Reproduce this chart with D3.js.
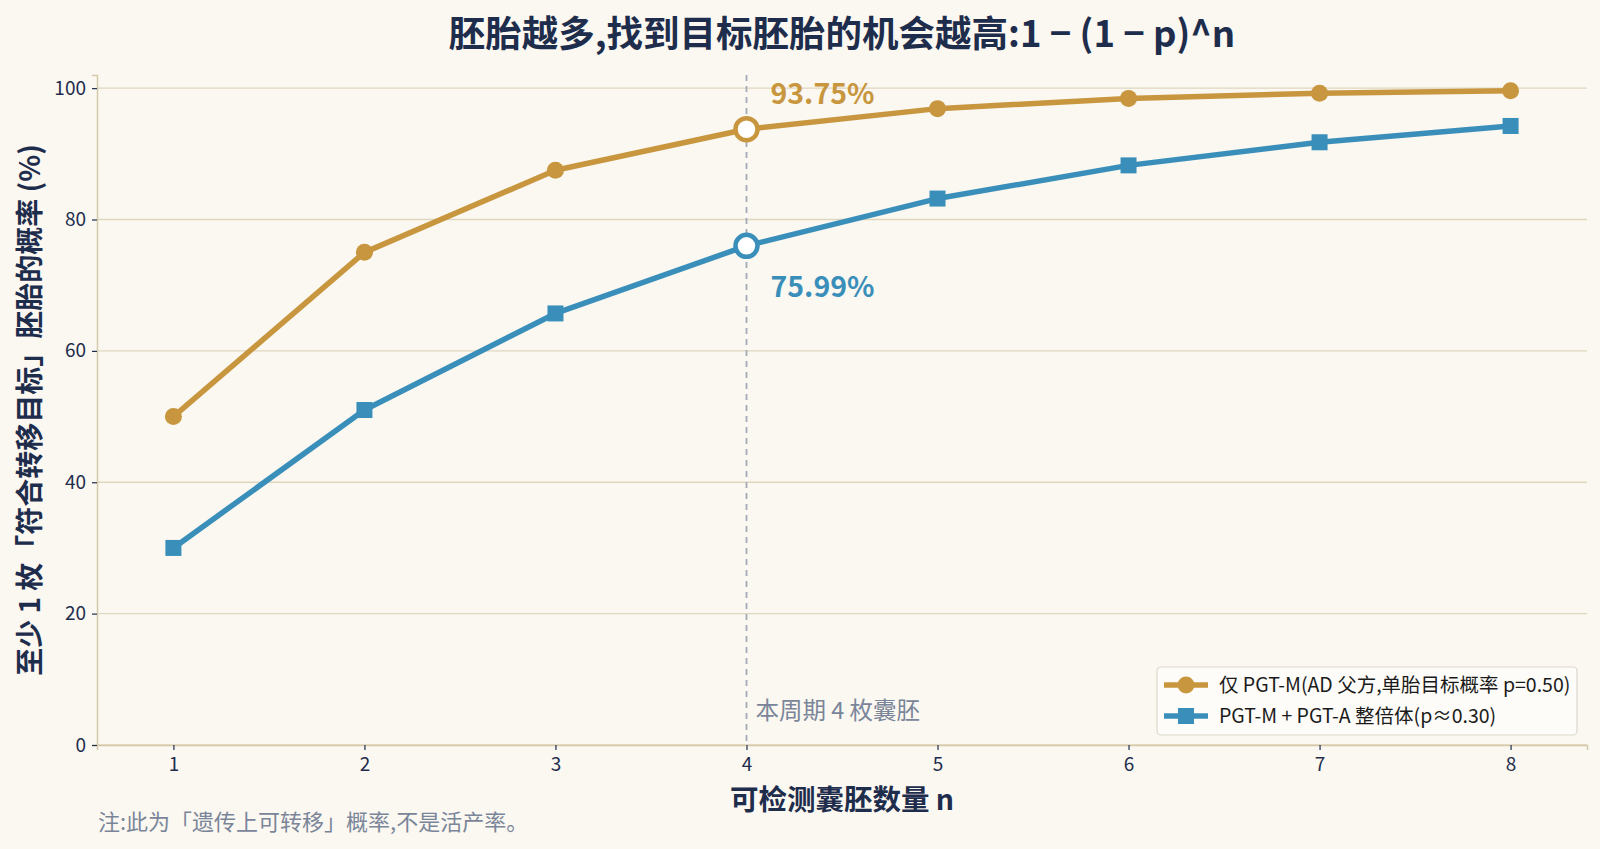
<html>
<head>
<meta charset="utf-8">
<title>胚胎概率</title>
<script src="https://cdn.jsdelivr.net/npm/d3@7"></script>
<style>
  body{margin:0;background:#faf8f1;}
  text{font-family:"Noto Sans CJK SC","Noto Sans",sans-serif;}
</style>
</head>
<body>
<script>
// 数据
var nValues = [1, 2, 3, 4, 5, 6, 7, 8];
var pgtM = [50, 75, 87.5, 93.75, 96.88, 98.44, 99.22, 99.61];      // p=0.50
var pgtMA = [30, 51, 65.7, 75.99, 83.19, 88.24, 91.76, 94.24];     // p≈0.30
var yTicks = [0, 20, 40, 60, 80, 100];
var seriesNames = ["仅 PGT-M(AD 父方,单胎目标概率 p=0.50)", "PGT-M + PGT-A 整倍体(p≈0.30)"];
var highlightN = 4;
var highlightLabels = ["93.75%", "75.99%"];

var width = 1600, height = 849;
var margin = {left: 97, right: 13, top: 75, bottom: 104};
var orange = "#c8963e", blue = "#3a8fba", navy = "#1f2d4d", grid = "#e0d6c0";

var svg = d3.select("body").append("svg")
    .attr("width", width).attr("height", height)
    .style("background", "#faf8f1");

var x = d3.scaleLinear().domain([0.6, 8.4]).range([margin.left, width - margin.right]);
var y = d3.scaleLinear().domain([0, 102]).range([height - margin.bottom, margin.top]);

// 网格线
svg.append("g").selectAll("line").data(yTicks).enter().append("line")
    .attr("x1", margin.left).attr("x2", width - margin.right)
    .attr("y1", d => y(d)).attr("y2", d => y(d))
    .attr("stroke", grid).attr("stroke-width", 1.3);

// 坐标轴
var xAxis = svg.append("g")
    .attr("transform", "translate(0," + (height - margin.bottom) + ")")
    .call(d3.axisBottom(x).tickValues(nValues).tickSize(5).tickPadding(8));
var yAxis = svg.append("g")
    .attr("transform", "translate(" + margin.left + ",0)")
    .call(d3.axisLeft(y).tickValues(yTicks).tickSize(5).tickPadding(6));
[xAxis, yAxis].forEach(function(g){
    g.select(".domain").attr("stroke", "#d6c9a8").attr("stroke-width", 1.5);
    g.selectAll(".tick line").attr("stroke", navy).attr("stroke-width", 1.2);
    g.selectAll(".tick text").attr("fill", navy).style("font-size", "19px")
        .style("font-family", "'Noto Sans CJK SC','Noto Sans',sans-serif");
});

// 参考线 n=4
svg.append("line")
    .attr("x1", x(highlightN)).attr("x2", x(highlightN))
    .attr("y1", margin.top).attr("y2", height - margin.bottom)
    .attr("stroke", "#a3abb8").attr("stroke-width", 1.8).attr("stroke-dasharray", "6,5");
svg.append("text")
    .attr("x", x(highlightN) + 9).attr("y", 719)
    .attr("fill", "#7b8599").style("font-size", "23.5px")
    .text("本周期 4 枚囊胚");

var line = d3.line().x((d, i) => x(nValues[i])).y(d => y(d));

// 橙色折线
svg.append("path").datum(pgtM).attr("d", line)
    .attr("fill", "none").attr("stroke", orange).attr("stroke-width", 5.5)
    .attr("stroke-linejoin", "round");
svg.selectAll(".dotM").data(pgtM).enter().append("circle")
    .attr("class", "dotM")
    .attr("cx", (d, i) => x(nValues[i])).attr("cy", d => y(d))
    .attr("r", 8.5).attr("fill", orange);

// 蓝色折线
svg.append("path").datum(pgtMA).attr("d", line)
    .attr("fill", "none").attr("stroke", blue).attr("stroke-width", 5.5)
    .attr("stroke-linejoin", "round");
svg.selectAll(".dotMA").data(pgtMA).enter().append("rect")
    .attr("class", "dotMA")
    .attr("x", (d, i) => x(nValues[i]) - 8).attr("y", d => y(d) - 8)
    .attr("width", 16).attr("height", 16).attr("fill", blue);

// 高亮点
var hi = nValues.indexOf(highlightN);
[[pgtM, orange], [pgtMA, blue]].forEach(function(s){
    svg.append("circle")
        .attr("cx", x(highlightN)).attr("cy", y(s[0][hi]))
        .attr("r", 11).attr("fill", "white")
        .attr("stroke", s[1]).attr("stroke-width", 4.5);
});
svg.append("text")
    .attr("x", x(highlightN) + 24).attr("y", y(pgtM[hi]) - 25)
    .attr("fill", orange).style("font-size", "28.5px").style("font-weight", "bold")
    .text(highlightLabels[0]);
svg.append("text")
    .attr("x", x(highlightN) + 24).attr("y", y(pgtMA[hi]) + 51)
    .attr("fill", blue).style("font-size", "28.5px").style("font-weight", "bold")
    .text(highlightLabels[1]);

// 标题
svg.append("text")
    .attr("x", (margin.left + width - margin.right) / 2).attr("y", 47)
    .attr("text-anchor", "middle").attr("fill", navy)
    .style("font-size", "36.5px").style("font-weight", "bold")
    .text("胚胎越多,找到目标胚胎的机会越高:1 − (1 − p)^n");

// 轴标题
svg.append("text")
    .attr("transform", "translate(40," + ((margin.top + height - margin.bottom) / 2) + ") rotate(-90)")
    .attr("text-anchor", "middle").attr("fill", navy)
    .style("font-size", "28px").style("font-weight", "bold")
    .text("至少 1 枚「符合转移目标」胚胎的概率 (%)");
svg.append("text")
    .attr("x", (margin.left + width - margin.right) / 2).attr("y", 810)
    .attr("text-anchor", "middle").attr("fill", navy)
    .style("font-size", "28.5px").style("font-weight", "bold")
    .text("可检测囊胚数量 n");

// 注释
svg.append("text")
    .attr("x", 98).attr("y", 830)
    .attr("fill", "#7b8599").style("font-size", "22px")
    .text("注:此为「遗传上可转移」概率,不是活产率。");

// 图例
var lg = svg.append("g").attr("transform", "translate(1157,667)");
lg.append("rect").attr("width", 420).attr("height", 68).attr("rx", 4)
    .attr("fill", "#fdfcf8").attr("stroke", "#ddd8cc").attr("stroke-width", 1.2);
[[orange, "circle"], [blue, "rect"]].forEach(function(s, i){
    var cy = 18 + i * 31;
    lg.append("line").attr("x1", 7).attr("x2", 51).attr("y1", cy).attr("y2", cy)
        .attr("stroke", s[0]).attr("stroke-width", 5.5);
    if (s[1] == "circle") {
        lg.append("circle").attr("cx", 29).attr("cy", cy).attr("r", 8.5).attr("fill", s[0]);
    } else {
        lg.append("rect").attr("x", 21).attr("y", cy - 8).attr("width", 16).attr("height", 16).attr("fill", s[0]);
    }
    lg.append("text").attr("x", 62).attr("y", cy + 7)
        .attr("fill", "#1a1a1a").style("font-size", "19.5px")
        .text(seriesNames[i]);
});
</script>
</body>
</html>
